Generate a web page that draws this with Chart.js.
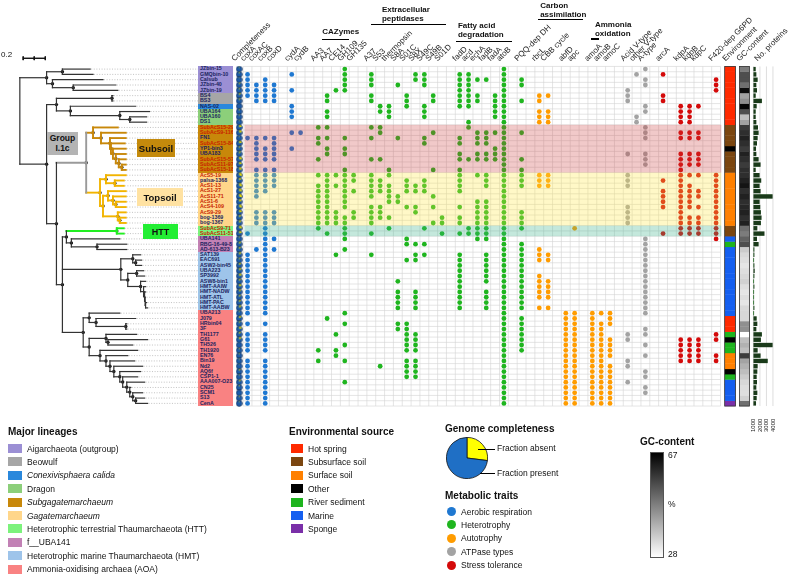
<!DOCTYPE html>
<html>
<head>
<meta charset="utf-8">
<title>Thaumarchaeota metabolic traits</title>
<script src="https://cdn.jsdelivr.net/npm/chart.js@4.4.1/dist/chart.umd.min.js"></script>
<style>
  body { margin: 0; background: #fff; font-family: Arial, "Liberation Sans", Helvetica, sans-serif; }
  #wrap { position: relative; width: 800px; height: 584px; overflow: hidden; }
  #main { position: absolute; left: 0; top: 0; }
  #pie { position: absolute; left: 446px; top: 437px; }
  .row { position: absolute; height: 5.4px; font: bold 5.3px/5.4px Arial, sans-serif; padding-left: 2px; overflow: hidden; box-sizing: border-box; white-space: nowrap; }
  .col { position: absolute; font: 8px/9px Arial, sans-serif; color: #222; transform: rotate(-45deg); transform-origin: 0 100%; white-space: nowrap; }
  .hd { position: absolute; font: bold 8px/9px Arial, sans-serif; white-space: nowrap; color: #111; }
  .rule { position: absolute; height: 1.6px; background: #000; }
  .box { position: absolute; font-weight: bold; display: flex; align-items: center; justify-content: center; text-align: center; color: #111; }
  .lgt { position: absolute; font: bold 10px Arial, sans-serif; white-space: nowrap; color: #111; }
  .lg { position: absolute; font: 8.5px/10px Arial, sans-serif; white-space: nowrap; color: #111; }
  .sw { position: absolute; width: 14px; height: 9px; }
  .dot { position: absolute; width: 9px; height: 9px; border-radius: 50%; }
  .sm { position: absolute; font: 6px Arial, sans-serif; white-space: nowrap; transform: rotate(-90deg); transform-origin: 0 0; color: #222; }
</style>
</head>
<body>
<div id="wrap">
  <canvas id="main" width="800" height="584"></canvas>
  <canvas id="pie" width="42" height="42"></canvas>
  <div id="overlay"></div>
</div>
<script>
// ---- data ----
const genomes = ['JZbin-15','GMQbin-10','Calsub','JZbin-40','JZbin-19','BS4','BS3','NAS-02','UBA164','UBA160','DS1',
  'SubAcS15-29','SubAcS9-116','FN1','SubAcS15-84','YP1-bin3','UBA183','SubAcS15-57','SubAcS11-97','SubAcS15-18',
  'AcS5-19','palsa-1368','AcS1-13','AcS1-27','AcS11-71','AcS1-6','AcS4-109','AcS9-29','bog-1369','bog-1367',
  'SubAcS9-71','SubAcS11-51','UBA141','RBG-16-49-8','AD-613-B23',
  'SAT139','EAC691','ASW2-bin45','UBA223','SP3992','ASW8-bin1','HMT-AAIW','HMT-NADW','HMT-ATL','HMT-PAC','HMT-AABW',
  'UBA213','J079','HRbin04','3F','TH1177','G61','TH526','TH1920','EN76','Bin19','Nd2','AQ6f','CSP1-1','AAA007-O23','CN25','SCM1','S13','CenA'];

const lineageOfRow = ['AIG','AIG','AIG','AIG','AIG','BEO','BEO','CON','DRA','DRA','DRA',
  'SUB','SUB','SUB','SUB','SUB','SUB','SUB','SUB','SUB',
  'GAG','GAG','GAG','GAG','GAG','GAG','GAG','GAG','GAG','GAG',
  'HTT','HTT','UBA','UBA','UBA',
  'HMT','HMT','HMT','HMT','HMT','HMT','HMT','HMT','HMT','HMT','HMT',
  'AOA','AOA','AOA','AOA','AOA','AOA','AOA','AOA','AOA','AOA','AOA','AOA','AOA','AOA','AOA','AOA','AOA','AOA'];

const envOfRow = ['HS','HS','HS','HS','HS','HS','HS','HS','HS','HS','HS',
  'SS','SS','SS','SS','OT','SS','SS','SS','SS',
  'SF','SF','SF','SF','SF','SF','SF','SF','SF','SF',
  'SS','SS','MA','RS','MA',
  'MA','MA','MA','MA','MA','MA','MA','MA','MA','MA','MA',
  'MA','HS','HS','HS','RS','OT','RS','RS','SF','SF','SF','OT','RS','MA','MA','MA','MA','SP'];

const gcContent = [48,55,55,50,65,42,45,66,55,38,42,
  58,60,62,60,58,62,60,58,60,
  60,62,64,60,62,60,61,62,60,62,
  50,48,52,55,36,
  34,33,32,33,34,35,33,32,33,32,34,
  34,34,45,45,28,38,40,38,58,42,40,38,36,34,33,33,35,50];

const proteins = [1350,1450,1650,1450,1550,1350,2300,1500,1350,1350,1450,
  1700,1800,1650,1550,1400,1450,1800,2100,1350,
  1950,2200,1950,2100,3950,1950,2050,2150,2250,2150,
  1600,2700,1550,1800,1150,
  1150,1100,1150,1200,1150,1100,1150,1100,1100,1100,1150,
  1100,1500,1600,1450,2300,2150,3950,1650,2100,3200,1650,1600,1500,1550,1450,1600,1500,1400];

const completeness = [0.97,0.95,0.98,0.92,0.94,0.9,0.93,0.99,0.95,0.96,0.97,
  0.8,0.78,0.97,0.8,0.92,0.9,0.75,0.8,0.78,
  0.7,0.85,0.72,0.75,0.7,0.8,0.72,0.78,0.88,0.85,
  0.75,0.8,0.95,0.88,0.9,
  0.85,0.92,0.88,0.85,0.8,0.9,0.82,0.88,0.9,0.9,0.85,
  0.95,0.85,0.92,0.8,0.9,0.85,0.99,0.95,0.96,0.97,0.98,0.92,0.97,0.9,0.95,1,0.95,0.97];

// matrix columns, '' = spacer column
const columns = ['coxA','coxAC','coxB','coxD','','cydA','cydB','','AA3','AA7','CE14','GH109','GH135','',
  'A37','S53','thermopsin','S8A','S01C','S8X','S49C','S49B','S01D','',
  'fadD','acd','echA','fadB','fadA','atoB','','PQQ-dep DH','','rbcL','CBB cycle','','abfD','apc','',
  'amoA','amoB','amoC','','Acid V-type','other V-type','A-type','','arcA','','kdpA','kdpB','kdpC','','F420-dep G6PD'];

const respGenes = ['coxA','coxAC','coxB','coxD','cydA','cydB'];
const respRows = [
  [1,2,3,4,5,13,31,35,36,37,38,39,40,41,42,43,44,45,46,48,50,51,52,53,55,56,57,58,59,60,61,62,63],
  [3,4,5,6,13,14,15,16,17,19,20,21,22,23,24,27,28,29,34],
  [2,3,4,5,6,13,15,16,17,19,20,21,22,23,27,28,29,30,31,32,33,34,35,36,37,38,39,40,41,42,43,44,45,46,48,50,51,52,53,55,56,57,58,59,60,61,62,63],
  [3,4,5,6,13,14,15,16,17,19,20,21,22,27,28,29,32,34],
  [1,4,7,8,9,12,15],
  [12]
];

const hetGenes = ['AA3','AA7','CE14','GH109','GH135','A37','S53','thermopsin','S8A','S01C','S8X','S49C','S49B','S01D',
  'fadD','acd','echA','fadB','fadA','atoB','PQQ-dep DH'];
const hetRows = [
  [11,13,14,17,20,22,23,24,25,26,27,28,29,30,53,55],
  [5,6,8,9,11,13,15,16,20,21,22,23,24,25,26,27,28,29,31,47],
  [4,20,22,27,28,29,35,50,53,54],
  [0,1,2,3,4,13,15,16,19,20,21,22,23,24,25,26,28,29,30,31,32,34,46,48,52,55,59],
  [20,21,23,27,28],
  [1,2,3,5,6,11,13,17,20,21,22,23,24,26,27,28,29,31,35],
  [7,8,11,12,17,21,22,23,26,27,28,56],
  [7,8,9,19,20,22,23,24,25,28,30],
  [3,13,24,25,40,42,43,44,45,48,49],
  [5,6,7,21,22,23,26,32,33,36,48,49,50,51,52,53,55,56,57,58],
  [1,2,22,23,26,27,33,35,36,42,43,44,45,50,51,52,53,55,56,57,58],
  [1,2,3,7,8,9,13,14,21,22,23,30,33,35],
  [5,6,12,19,24,26,29],
  [28,29,31],
  [1,2,3,4,5,6,7,13,14,16,17,19,20,21,22,23,26,28,29,31,35,36,37,38,39,40,41,42,43,44,45],
  [1,2,3,4,5,6,7,10,11,17,30,31],
  [2,5,6,12,13,14,16,17,20,25,26,27,28,29,30,31,32],
  [2,12,13,14,16,17,20,21,22,25,26,27,28,29,30,31,32,35,36,37,38,39,40,42,43,44,45],
  [5,6,7,8,9,12,15,16,17],
  [0,1,2,3,4,5,6,7,8,9,10,11,12,13,14,15,16,17,18,19,20,21,22,23,24,25,26,27,28,29,30,31,
   32,33,34,35,36,37,38,39,40,41,42,43,44,45,46,47,48,49,50,51,52,53,54,55,56,57,58,59,60,61,62,63],
  [2,3,6,12,17,19,20,21,22,27,28,29,30,33,34,35,36,37,38,39,40,41,42,43,44,45,47,48,49,50,51,52,53]
];

const autoGenes = ['rbcL','CBB cycle','abfD','apc','amoA','amoB','amoC'];
const autoRows = [
  [5,6,8,9,10,20,21,22,34,35,36,39,40,41,42,43,45],
  [5,8,9,10,20,21,22,35,36,40,41,42,43,45],
  [46,47,48,49,50,51,52,53,54,55,56,57,58,59,60,61,62,63],
  [30,46,47,48,49,50,51,52,53,54,55,56,57,58,59,60,61,62,63],
  [46,47,48,49,50,51,52,53,54,55,56,57,58,59,60,61,62,63],
  [46,48,49,50,51,52,53,54,55,56,57,58,59,60,61,62,63],
  [46,47,48,51,52,53,54,56,57,58,59,60,61,62,63]
];

const atpGenes = ['Acid V-type','other V-type','A-type'];
const atpRows = [
  [4,5,6,16,20,21,22,26,27,28,29,50,51,55,56,59],
  [1,9,10],
  [0,2,3,7,8,11,12,13,16,17,18,32,33,34,35,36,37,38,39,40,41,42,43,44,45,46,49,50,52,54,57,58,60,61]
];

const stressGenes = ['arcA','kdpA','kdpB','kdpC','F420-dep G6PD'];
const stressRows = [
  [1,5,6,21,23,24,25,26,31],
  [7,8,9,10,12,13,16,17,18,19,20,21,22,23,24,25,26,27,28,29,30,31,51,52,53,54,55],
  [7,8,9,10,12,13,16,17,18,20,22,23,24,25,26,28,29,30,31,51,52,53,54,55],
  [7,12,13,16,17,18,20,23,24,26,28,29,30,31,51,52,53,54,55],
  [2,3,4,20,21,22,23,24,25,26,27,28,29,30,31,32,50,51,54,55]
];

// phylogeny: N(depth, ...children), L(row, tipDepth); depth in substitutions/site
const L = (row, d) => ({ row, d });
const N = (d, ...c) => ({ d, c });
const tint = (col, n) => { n.col = col; return n; };

const aigClade = N(0.242,
  N(0.385, L(0, 0.636), L(1, 0.662)),
  N(0.295, L(2, 0.752), N(0.483, L(3, 0.868), L(4, 0.886))));
const beoDragon = N(0.331,
  N(0.833, L(5, 0.842), L(6, 0.842)),
  N(0.457, L(7, 1.047), N(0.904, L(8, 1.173), N(0.994, L(9, 1.146), L(10, 1.146)))));
const subsoilTail = N(0.868, L(16, 0.958), N(0.895, L(17, 0.958), N(0.922, L(18, 0.958), L(19, 0.958))));
const subsoil = tint('#c8880a', N(0.662, L(11, 0.886),
  N(0.734, L(12, 0.958), N(0.815, L(13, 0.958), N(0.824, L(14, 0.949), N(0.842, L(15, 0.958), subsoilTail))))));
const topsoil = tint('#f2b400', N(0.725,
  N(0.779, L(20, 0.958), N(0.859, L(21, 0.940), L(22, 0.940))),
  N(0.752,
    N(0.797, L(23, 0.958), N(0.842, L(24, 0.958), N(0.868, L(25, 0.958), L(26, 0.958)))),
    N(0.886, L(27, 0.958), N(0.904, L(28, 0.958), L(29, 0.958))))));
const groupI1c = tint('#9a9a9a', N(0.600, subsoil, topsoil));
const httUba = N(0.421,
  tint('#22ee22', N(0.877, L(30, 0.940), L(31, 0.940))),
  N(0.466, L(32, 0.904), N(0.698, L(33, 0.967), L(34, 0.967))));
const hmtTail = N(1.119, L(41, 1.137), N(1.128, L(42, 1.137), N(1.133, L(43, 1.137), N(1.137, L(44, 1.146), L(45, 1.155)))));
const hmt = N(0.913,
  N(1.021, L(35, 1.092), N(1.047, L(36, 1.101), L(37, 1.101))),
  N(0.976, N(1.056, L(38, 1.119), L(39, 1.128)), N(1.092, L(40, 1.137), hmtTail)));
const aoaTail = N(0.930, L(58, 1.065), N(0.967, L(59, 1.128), N(0.994, L(60, 1.003),
  N(1.021, L(61, 1.110), N(1.047, L(62, 1.128), L(63, 1.155))))));
const aoaLadder = N(0.725, L(53, 1.065), N(0.779, L(54, 0.976), N(0.815, L(55, 1.038),
  N(0.850, L(56, 1.110), N(0.904, L(57, 1.092), aoaTail)))));
const aoa = N(0.573,
  N(0.627, L(46, 0.904), N(0.689, L(47, 1.047), N(0.958, L(48, 0.967), L(49, 0.967)))),
  N(0.627, N(0.779, L(50, 1.056), N(0.797, L(51, 1.155), L(52, 1.021))), aoaLadder));
const tree = N(0, aigClade, N(0.242, beoDragon, N(0.331, groupI1c, N(0.385, httUba, hmt, aoa))));

// ---- look ----
const lineageColors = { AIG: '#9b8fd4', BEO: '#a6a6a6', CON: '#2a88dc', DRA: '#8ccf7a', SUB: '#c8880a', GAG: '#ffd68a',
  HTT: '#7cf27c', UBA: '#c281b5', HMT: '#9ec4ea', AOA: '#f98282' };
const envColors = { HS: '#ff2a00', SS: '#7b4610', SF: '#ff8000', OT: '#000000', RS: '#1eb41e', MA: '#155ff0', SP: '#7a2fa8' };
const traitColors = { resp: '#1f78d1', het: '#1fb51f', auto: '#ff9c00', atp: '#a3a3a3', stress: '#d40a0a' };

const datasets = [];
const onGrid = { xAxisID: 'x', yAxisID: 'y' };

function addDots(genes, rowLists, color) {
  genes.forEach((g, i) => {
    const c = columns.indexOf(g);
    datasets.push({ ...onGrid, data: rowLists[i].map(r => ({ x: c, y: r })),
      backgroundColor: color, borderWidth: 0, pointRadius: 2.4, pointHoverRadius: 2.4 });
  });
}
addDots(respGenes, respRows, traitColors.resp);
addDots(hetGenes, hetRows, traitColors.het);
addDots(autoGenes, autoRows, traitColors.auto);
addDots(atpGenes, atpRows, traitColors.atp);
addDots(stressGenes, stressRows, traitColors.stress);

// completeness pies as point images
function pieGlyph(frac) {
  const cv = document.createElement('canvas');
  cv.width = 7; cv.height = 7;
  const g = cv.getContext('2d');
  g.fillStyle = '#1b5aa8';
  g.beginPath(); g.arc(3.5, 3.5, 2.9, 0, Math.PI * 2); g.fill();
  if (frac < 1) {
    g.fillStyle = '#f6e600';
    g.beginPath(); g.moveTo(3.5, 3.5);
    g.arc(3.5, 3.5, 2.9, -Math.PI / 2, -Math.PI / 2 + (1 - frac) * Math.PI * 2); g.closePath(); g.fill();
  }
  g.strokeStyle = '#0b2446'; g.lineWidth = 0.6;
  g.beginPath(); g.arc(3.5, 3.5, 2.9, 0, Math.PI * 2); g.stroke();
  return cv;
}
const completenessCol = -0.95;
datasets.push({ ...onGrid, data: completeness.map((f, r) => ({ x: completenessCol, y: r })),
  pointStyle: completeness.map(pieGlyph), pointRadius: 3, borderWidth: 0 });

// environment + GC strips
const envSpan = [53.97, 55.2];
const gcSpan = [55.65, 56.77];
function gcGray(v) {
  const t = Math.max(0, Math.min(1, (v - 28) / (67 - 28)));
  const k = Math.round(255 * (1 - t));
  return `rgb(${k},${k},${k})`;
}
envOfRow.forEach((e, r) => {
  datasets.push({ ...onGrid, showLine: true, data: [{ x: envSpan[0], y: r }, { x: envSpan[1], y: r }],
    borderColor: envColors[e], borderWidth: 5.7, pointRadius: 0, borderCapStyle: 'butt' });
});
gcContent.forEach((v, r) => {
  datasets.push({ ...onGrid, showLine: true, data: [{ x: gcSpan[0], y: r }, { x: gcSpan[1], y: r }],
    borderColor: gcGray(v), borderWidth: 5.7, pointRadius: 0, borderCapStyle: 'butt' });
});

// protein counts as bars from the axis base
const proteinBase = 1000;
proteins.forEach((v, r) => {
  datasets.push({ xAxisID: 'xp', yAxisID: 'y', showLine: true, data: [{ x: proteinBase, y: r }, { x: v, y: r }],
    borderColor: '#1a3a1a', borderWidth: 4.4, pointRadius: 0, borderCapStyle: 'butt' });
  datasets.push({ xAxisID: 'xp', yAxisID: 'y', showLine: true, data: [{ x: proteinBase + 90, y: r }, { x: v - 90, y: r }],
    borderColor: '#33ee33', borderWidth: 3.2, pointRadius: 0, borderCapStyle: 'butt' });
});

// tree segments
const segs = [], nodeDots = [], tips = [];
function layout(n, inherited) {
  const col = n.col || inherited;
  if (n.row !== undefined) { n.y = n.row; tips.push(n); return; }
  n.c.forEach(k => layout(k, col));
  const first = n.c[0].y, last = n.c[n.c.length - 1].y;
  n.y = (first + last) / 2;
  segs.push({ x0: n.d, y0: first, x1: n.d, y1: last, col });
  n.c.forEach(k => segs.push({ x0: n.d, y0: k.y, x1: k.d, y1: k.y, col: k.col || col }));
  if (n.d > 0 && n.d < 1.1) nodeDots.push({ x: n.d, y: n.y });
}
layout(tree, '#333333');
segs.forEach(s => {
  datasets.push({ xAxisID: 'xt', yAxisID: 'y', showLine: true, data: [{ x: s.x0, y: s.y0 }, { x: s.x1, y: s.y1 }],
    borderColor: s.col, borderWidth: s.col === '#333333' ? 1.2 : 1.9, pointRadius: 0, borderCapStyle: 'square' });
});
datasets.push({ xAxisID: 'xt', yAxisID: 'y', data: nodeDots, backgroundColor: '#111', borderWidth: 0, pointRadius: 1.7 });

// scale bar 0.2
const scaleRow = -2.04;
datasets.push({ xAxisID: 'xt', yAxisID: 'y', showLine: true, data: [{ x: 0.03, y: scaleRow }, { x: 0.23, y: scaleRow }],
  borderColor: '#111', borderWidth: 1.4, pointRadius: 0 });
[0.03, 0.13, 0.23].forEach(v => datasets.push({ xAxisID: 'xt', yAxisID: 'y', showLine: true,
  data: [{ x: v, y: scaleRow - 0.35 }, { x: v, y: scaleRow + 0.35 }], borderColor: '#111', borderWidth: 1, pointRadius: 0 }));

// highlight bands over the matrix
const bands = [
  { from: 10.5, to: 19.5, color: 'rgba(205,60,60,0.28)' },
  { from: 19.5, to: 29.5, color: 'rgba(255,232,70,0.30)' },
  { from: 29.5, to: 31.5, color: 'rgba(60,180,140,0.30)' }
];

const labelLeftCol = -5.6;
const decor = {
  id: 'decor',
  beforeDatasetsDraw(chart) {
    const { ctx, scales: { x, y, xt, xp } } = chart;
    ctx.save();
    // leader lines from tips to labels
    ctx.strokeStyle = '#9a9a9a'; ctx.lineWidth = 0.6; ctx.setLineDash([1, 1.6]);
    tips.forEach(t => {
      const py = y.getPixelForValue(t.row);
      ctx.beginPath(); ctx.moveTo(xt.getPixelForValue(t.d) + 1, py); ctx.lineTo(x.getPixelForValue(labelLeftCol), py); ctx.stroke();
    });
    ctx.setLineDash([]);
    // matrix grid
    ctx.strokeStyle = '#d3d3d3'; ctx.lineWidth = 0.6;
    const top = y.getPixelForValue(-0.5), bottom = y.getPixelForValue(genomes.length - 0.5);
    const left = x.getPixelForValue(-0.5), right = x.getPixelForValue(columns.length - 0.5);
    for (let c = -0.5; c <= columns.length; c += 1) {
      const px = x.getPixelForValue(c);
      ctx.beginPath(); ctx.moveTo(px, top); ctx.lineTo(px, bottom); ctx.stroke();
    }
    for (let r = -0.5; r <= genomes.length; r += 1) {
      const py = y.getPixelForValue(r);
      ctx.beginPath(); ctx.moveTo(left, py); ctx.lineTo(right, py); ctx.stroke();
    }
    // protein grid
    ctx.strokeStyle = '#c8c8c8';
    [1000, 2000, 3000, 4000].forEach(v => {
      const px = xp.getPixelForValue(v);
      ctx.beginPath(); ctx.moveTo(px, top); ctx.lineTo(px, bottom); ctx.stroke();
    });
    ctx.restore();
  },
  afterDatasetsDraw(chart) {
    const { ctx, scales: { x, y } } = chart;
    ctx.save();
    const left = x.getPixelForValue(-0.35), right = x.getPixelForValue(53.6);
    bands.forEach(b => {
      const y0 = y.getPixelForValue(b.from), y1 = y.getPixelForValue(b.to);
      ctx.fillStyle = b.color; ctx.fillRect(left, y0, right - left, y1 - y0);
    });
    ctx.strokeStyle = '#333'; ctx.lineWidth = 0.8;
    const top = y.getPixelForValue(-0.5), bottom = y.getPixelForValue(genomes.length - 0.5);
    [envSpan, gcSpan].forEach(s => {
      const a = x.getPixelForValue(s[0]), b = x.getPixelForValue(s[1]);
      ctx.strokeRect(a, top, b - a, bottom - top);
    });
    ctx.restore();
  }
};

Chart.defaults.font.family = 'Arial, "Liberation Sans", sans-serif';
const hidden = { display: false };
const chart = new Chart(document.getElementById('main'), {
  type: 'scatter',
  data: { datasets },
  options: {
    responsive: false, animation: false, devicePixelRatio: 1, events: [],
    layout: { padding: 0 },
    plugins: { legend: hidden, tooltip: { enabled: false } },
    scales: {
      x: { type: 'linear', axis: 'x', min: -27.548, max: 62.038, ...hidden },
      xt: { type: 'linear', axis: 'x', min: -0.14324, max: 7.0188, ...hidden },
      xp: { type: 'linear', axis: 'x', min: -114220.7, max: 7544.9, ...hidden },
      y: { type: 'linear', axis: 'y', reverse: true, min: -12.2677, max: 96.2825, ...hidden }
    }
  },
  plugins: [decor]
});

// legend pie for genome completeness
new Chart(document.getElementById('pie'), {
  type: 'pie',
  data: { labels: ['Fraction absent', 'Fraction present'],
    datasets: [{ data: [27, 73], backgroundColor: ['#ffff00', '#1f6fc5'], borderColor: '#111', borderWidth: 0.8 }] },
  options: { responsive: false, animation: false, devicePixelRatio: 1, events: [],
    plugins: { legend: { display: false }, tooltip: { enabled: false } } }
});

// ---- text overlay ----
const overlay = document.getElementById('overlay');
function put(cls, html, left, top, css) {
  const d = document.createElement('div');
  d.className = cls; d.innerHTML = html;
  d.style.left = left + 'px'; d.style.top = top + 'px';
  if (css) d.style.cssText += css;
  overlay.appendChild(d);
  return d;
}
const sx = chart.scales.x, sy = chart.scales.y, sxp = chart.scales.xp;
const labelLeft = sx.getPixelForValue(labelLeftCol);

genomes.forEach((g, r) => {
  const red = /^(SubAc|AcS)/.test(g);
  put('row', g, labelLeft, sy.getPixelForValue(r) - 2.7,
    `width:35px;background:${lineageColors[lineageOfRow[r]]};color:${red ? '#c82400' : '#1b1f5e'}`);
});

const labelBase = 63;
function colLabel(text, px) { put('col', text, px - 3, labelBase - 9); }
colLabel('Completeness', sx.getPixelForValue(completenessCol));
columns.forEach((c, i) => { if (c) colLabel(c, sx.getPixelForValue(i)); });
colLabel('Environment', sx.getPixelForValue((envSpan[0] + envSpan[1]) / 2));
colLabel('GC-content', sx.getPixelForValue((gcSpan[0] + gcSpan[1]) / 2));
colLabel('No. proteins', sxp.getPixelForValue(2300));

// group headers
function header(lines, fromCol, toCol, textTop, ruleTop, textLeft) {
  const a = sx.getPixelForValue(fromCol), b = sx.getPixelForValue(toCol);
  put('hd', lines.join('<br>'), textLeft !== undefined ? textLeft : a, textTop);
  put('rule', '', a, ruleTop, `width:${b - a}px`);
}
header(['CAZymes'], 8.45, 11.5, 27, 38.5);
header(['Extracellular', 'peptidases'], 14, 22.4, 5, 23.5, sx.getPixelForValue(15.2));
header(['Fatty acid', 'degradation'], 23.6, 29.9, 21, 40.5, sx.getPixelForValue(23.8));
header(['Carbon', 'assimilation'], 32.9, 38, 1, 18.5, sx.getPixelForValue(33.1));
header(['Ammonia', 'oxidation'], 38.8, 39.7, 20, 38.3, sx.getPixelForValue(39.3));

// protein axis ticks
[1000, 2000, 3000, 4000].forEach(v => put('sm', String(v), sxp.getPixelForValue(v) - 3, 432));

// clade boxes and scale bar label
put('box', 'Group<br>I.1c', 47, 132, 'width:31px;height:23px;background:#b4b4b4;font-size:8.5px;line-height:9.5px');
put('box', 'Subsoil', 137, 139, 'width:38px;height:18px;background:#c48a0c;font-size:9.5px');
put('box', 'Topsoil', 137, 188, 'width:46px;height:18px;background:#ffe2a2;font-size:9.5px');
put('box', 'HTT', 143, 224, 'width:35px;height:15px;background:#22ee33;font-size:9px');
put('lg', '0.2', 1, 50, 'font-size:8px');

// legends
const lineageLegend = [
  ['AIG', 'Aigarchaeota (outgroup)'], ['BEO', 'Beowulf'], ['CON', '<i>Conexivisphaera calida</i>'], ['DRA', 'Dragon'],
  ['SUB', '<i>Subgagatemarchaeum</i>'], ['GAG', '<i>Gagatemarchaeum</i>'], ['HTT', 'Heterotrophic terrestrial Thaumarchaeota (HTT)'],
  ['UBA', 'f__UBA141'], ['HMT', 'Heterotrophic marine Thaumarchaeota (HMT)'], ['AOA', 'Ammonia-oxidising archaea (AOA)']];
put('lgt', 'Major lineages', 8, 426);
lineageLegend.forEach(([k, t], i) => {
  const top = 444 + i * 13.4;
  put('sw', '', 8, top, `background:${lineageColors[k]}`);
  put('lg', t, 27, top - 0.5);
});

const envLegend = [['HS', 'Hot spring'], ['SS', 'Subsurface soil'], ['SF', 'Surface soil'], ['OT', 'Other'],
  ['RS', 'River sediment'], ['MA', 'Marine'], ['SP', 'Sponge']];
put('lgt', 'Environmental source', 289, 426);
envLegend.forEach(([k, t], i) => {
  const top = 444 + i * 13.4;
  put('sw', '', 291, top, `background:${envColors[k]};width:12px`);
  put('lg', t, 308, top - 0.5);
});

put('lgt', 'Genome completeness', 445, 423);
put('lg', 'Fraction absent', 497, 443);
put('lg', 'Fraction present', 497, 468);
put('rule', '', 478, 449, 'width:17px;height:0.8px');
put('rule', '', 480, 473, 'width:15px;height:0.8px');

const traitLegend = [['resp', 'Aerobic respiration'], ['het', 'Heterotrophy'], ['auto', 'Autotrophy'],
  ['atp', 'ATPase types'], ['stress', 'Stress tolerance']];
put('lgt', 'Metabolic traits', 445, 490);
traitLegend.forEach(([k, t], i) => {
  const top = 507 + i * 13.4;
  put('dot', '', 447, top, `background:${traitColors[k]}`);
  put('lg', t, 461, top - 0.5);
});

put('lgt', 'GC-content', 640, 436);
put('sw', '', 650, 452, 'width:12px;height:104px;border:1px solid #555;background:linear-gradient(#000,#fff)');
put('lg', '67', 668, 450);
put('lg', '%', 668, 499);
put('lg', '28', 668, 549);
</script>
</body>
</html>
